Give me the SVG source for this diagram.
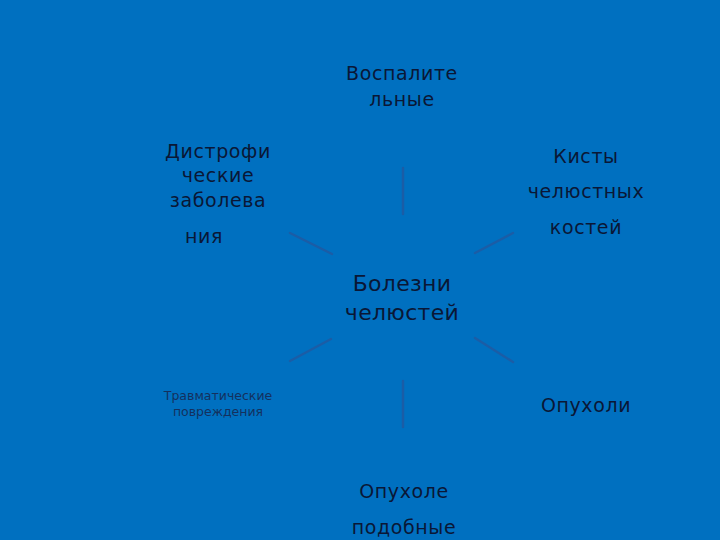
<svg xmlns="http://www.w3.org/2000/svg" width="720" height="540" viewBox="0 0 720 540">
<style>
text{font-family:"DejaVu Sans","Open Sans",sans-serif;fill:#0a1736;text-anchor:middle}
.m{font-size:19px;letter-spacing:0.6px}
.c{font-size:22px;letter-spacing:0.3px}
.s{font-size:12.5px;fill:#14305e}
.ln{stroke:#1b5da6;stroke-width:2.5;stroke-linecap:round}
</style>
<rect width="720" height="540" fill="#0070c0"/>
<g id="connectors">
<line class="ln" x1="403" y1="168" x2="403" y2="214"/>
<line class="ln" x1="290" y1="233" x2="332" y2="254"/>
<line class="ln" x1="475" y1="253" x2="513" y2="233"/>
<line class="ln" x1="290" y1="361" x2="331" y2="339"/>
<line class="ln" x1="475" y1="338" x2="513" y2="362"/>
<line class="ln" x1="403" y1="381" x2="403" y2="427"/>
</g>
<g id="center"><text class="c" x="402" y="291">Болезни</text><text class="c" x="402" y="320">челюстей</text></g>
<g id="vospal"><text class="m" x="402" y="80">Воспалите</text><text class="m" x="402" y="106">льные</text></g>
<g id="distrof"><text class="m" x="218" y="158">Дистрофи</text><text class="m" x="218" y="182">ческие</text><text class="m" x="218" y="207">заболева</text><text class="m" x="204" y="243">ния</text></g>
<g id="kisty"><text class="m" x="586" y="163">Кисты</text><text class="m" x="586" y="198">челюстных</text><text class="m" x="586" y="234">костей</text></g>
<g id="travm"><text class="s" x="218" y="400">Травматические</text><text class="s" x="218" y="416">повреждения</text></g>
<g id="opuholi"><text class="m" x="586" y="412">Опухоли</text></g>
<g id="opuhole"><text class="m" x="404" y="498">Опухоле</text><text class="m" x="404" y="534">подобные</text></g>
</svg>
